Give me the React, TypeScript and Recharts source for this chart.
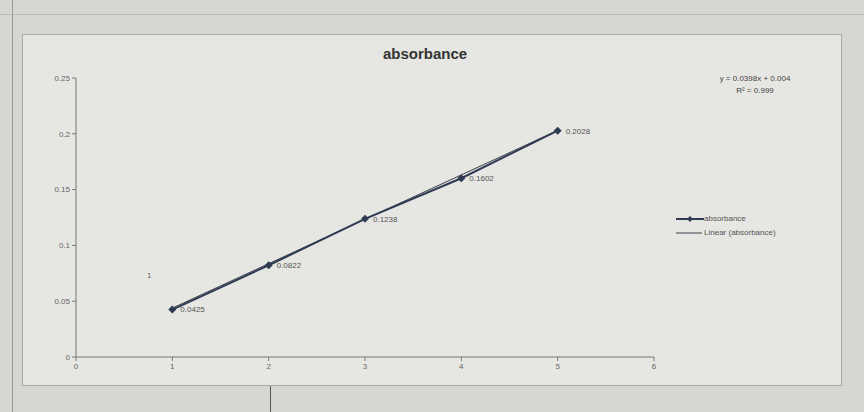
import React from 'react';
import { LineChart, Line, XAxis, YAxis, LabelList } from 'recharts';

const concentrations = [1, 2, 3, 4, 5];
const absorbance = [0.0425, 0.0822, 0.1238, 0.1602, 0.2028];
const xTicks = [0, 1, 2, 3, 4, 5, 6];
const yTicks = [0, 0.05, 0.1, 0.15, 0.2, 0.25];
// linear trendline end points (y = 0.0398x + 0.004)
const trendX = [1, 5];
const trendY = [0.0438, 0.203];

const chartData = concentrations.map((x, i) => ({ x, absorbance: absorbance[i] }));
const trendData = trendX.map((x, i) => ({ x, trend: trendY[i] }));

const Diamond = (props: any) => {
  const { cx, cy } = props;
  if (cx == null || cy == null) return null;
  return (
    <polygon
      points={`${cx},${cy - 4} ${cx + 4},${cy} ${cx},${cy + 4} ${cx - 4},${cy}`}
      fill="#2e3b52"
    />
  );
};

const tickStyle = { fontSize: 8, fill: '#666', fontFamily: 'Liberation Sans, Arial, sans-serif' };

export default function App() {
  return (
    <div
      style={{
        position: 'fixed',
        left: 0,
        top: 0,
        width: 864,
        height: 412,
        background: '#d6d6d2',
        overflow: 'hidden',
        fontFamily: '"Liberation Sans", Arial, sans-serif',
      }}
    >
      {/* spreadsheet grid lines behind the chart */}
      <div style={{ position: 'absolute', left: 0, top: 14, width: 864, height: 1, background: '#bdbdb8' }} />
      <div style={{ position: 'absolute', left: 12, top: 0, width: 1, height: 412, background: '#9a9a96' }} />
      <div style={{ position: 'absolute', left: 270, top: 385, width: 1, height: 27, background: '#555' }} />
      {/* chart area */}
      <div
        style={{
          position: 'absolute',
          left: 22,
          top: 34,
          width: 818,
          height: 350,
          background: '#e6e6e2',
          border: '1px solid #a8a8a4',
        }}
      />
      <div style={{ position: 'absolute', left: 0, top: 0 }}>
        <LineChart
          width={864}
          height={412}
          margin={{ top: 78, right: 210, bottom: 25, left: 36 }}
        >
          <XAxis
            dataKey="x"
            type="number"
            domain={[0, 6]}
            ticks={xTicks}
            allowDuplicatedCategory={false}
            stroke="#777"
            tick={tickStyle}
            tickSize={4}
            height={30}
          />
          <YAxis
            type="number"
            domain={[0, 0.25]}
            ticks={yTicks}
            stroke="#777"
            tick={tickStyle}
            tickSize={4}
            width={40}
          />
          <Line
            data={trendData}
            dataKey="trend"
            type="linear"
            stroke="#3a3f4a"
            strokeWidth={1}
            dot={false}
            isAnimationActive={false}
          />
          <Line
            data={chartData}
            dataKey="absorbance"
            type="linear"
            stroke="#2e3b52"
            strokeWidth={2}
            dot={<Diamond />}
            isAnimationActive={false}
          >
            <LabelList
              dataKey="absorbance"
              position="right"
              offset={8}
              style={{ fontSize: 8, fill: '#555', fontFamily: 'Liberation Sans, Arial, sans-serif' }}
            />
          </Line>
        </LineChart>
      </div>
      {/* title */}
      <div
        style={{
          position: 'absolute',
          left: 0,
          width: 850,
          top: 45,
          textAlign: 'center',
          fontWeight: 'bold',
          fontSize: 15,
          color: '#333',
        }}
      >
        absorbance
      </div>
      {/* trendline equation */}
      <div
        style={{
          position: 'absolute',
          left: 690,
          width: 130,
          top: 73,
          textAlign: 'center',
          fontSize: 8,
          lineHeight: '12px',
          color: '#444',
        }}
      >
        <div>y = 0.0398x + 0.004</div>
        <div>R² = 0.999</div>
      </div>
      <div style={{ position: 'absolute', left: 147, top: 271, fontSize: 8, color: '#666' }}>1</div>
      {/* legend */}
      <div style={{ position: 'absolute', left: 676, top: 212, fontSize: 8, color: '#555', lineHeight: '14px' }}>
        <div style={{ display: 'flex', alignItems: 'center' }}>
          <svg width={28} height={8}>
            <line x1={0} y1={4} x2={28} y2={4} stroke="#2e3b52" strokeWidth={2} />
            <polygon points="14,1 17,4 14,7 11,4" fill="#2e3b52" />
          </svg>
          <span>absorbance</span>
        </div>
        <div style={{ display: 'flex', alignItems: 'center' }}>
          <svg width={28} height={8}>
            <line x1={0} y1={4} x2={26} y2={4} stroke="#3a3f4a" strokeWidth={1} />
          </svg>
          <span>Linear (absorbance)</span>
        </div>
      </div>
    </div>
  );
}
